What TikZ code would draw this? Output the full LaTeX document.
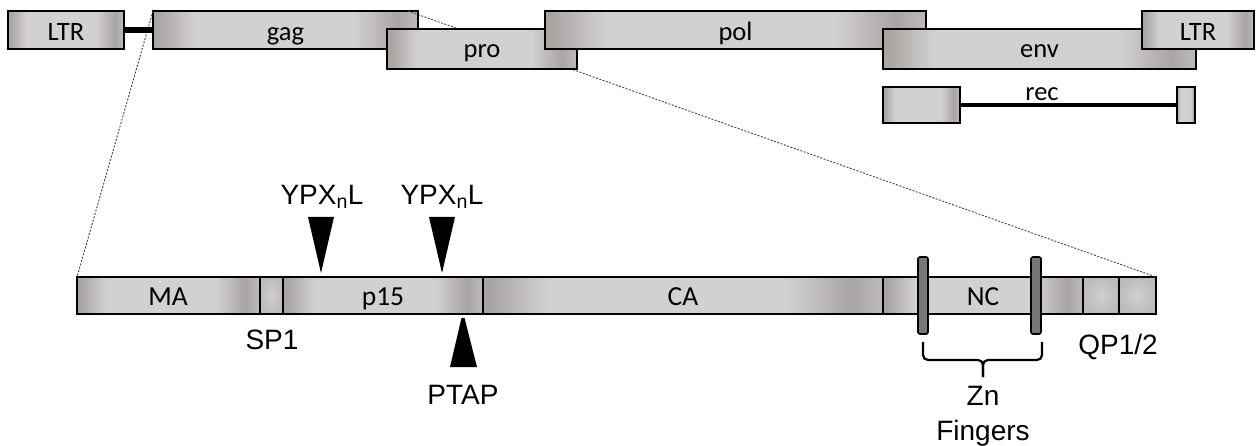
\documentclass[tikz,border=0pt]{standalone}
\usepackage{fontspec}
\setmainfont{Liberation Sans}
\newfontfamily\carlito{Carlito}
\newfontfamily\arialf{Liberation Sans}
\definecolor{gl}{HTML}{D2D0D1}
\definecolor{gd}{HTML}{A9A5A3}
\definecolor{gm}{HTML}{BDBABA}
\definecolor{fing}{HTML}{777777}
\definecolor{zl}{HTML}{444444}
\pgfdeclarehorizontalshading{bar}{100bp}{color(0bp)=(gd); color(26bp)=(gd); color(33bp)=(gl); color(63bp)=(gl); color(71bp)=(gd); color(75bp)=(gm); color(100bp)=(gm)}
\newcommand\gb[6]{\node[#1, minimum width=#5-#3, minimum height=#6-#4] (#2) at (#3,#4) {};}
\begin{document}
\begin{tikzpicture}[x=1pt,y=-1pt,
  gbox/.style={draw=black, line width=1.8pt, shade, shading=bar, inner sep=0pt, outer sep=0pt, anchor=north west},
  sbox/.style={draw=black, line width=1.8pt, inner color=gl, outer color=gm, inner sep=0pt, outer sep=0pt, anchor=north west},
  lbl/.style={font=\carlito\fontsize{26.5}{30}\selectfont, anchor=base, inner sep=0pt},
  lblb/.style={font=\carlito\fontsize{27.5}{32}\selectfont, anchor=base, inner sep=0pt},
  ann/.style={font=\arialf\fontsize{28}{32}\selectfont, anchor=base, inner sep=0pt},
  zoomline/.style={draw=zl, line width=0.9pt, dash pattern=on 2pt off 1.5pt},
  finger/.style={draw=black, line width=1.6pt, fill=fing, rounded corners=2pt, inner sep=0pt, outer sep=0pt, anchor=north west, minimum width=10pt, minimum height=77pt},
  bracestyle/.style={draw=black, line width=2.2pt, rounded corners=5pt},
  tri/.style={fill=black}]
\useasboundingbox (0,0) rectangle (1256,446);
% top row, first layer
\gb{gbox}{ltr1}{8}{11}{124}{49}
\gb{gbox}{gag}{153}{11}{418}{49}
% bottom row
\gb{gbox}{ma}{77}{277}{260}{314}
\gb{sbox}{sp1}{260}{277}{283}{314}
\gb{gbox}{p15}{283}{277}{483}{314}
\gb{gbox}{ca}{483}{277}{883}{314}
\gb{gbox}{nc}{883}{277}{1083}{314}
\gb{sbox}{qp1}{1083}{277}{1119}{314}
\gb{sbox}{qp2}{1119}{277}{1156}{314}
% zoom lines
\draw[zoomline] (gag.north west) -- (ma.north west);
\draw[zoomline] ([xshift=-10pt]gag.north east) -- (qp2.north east);
% top row, upper layers
\gb{gbox}{pro}{387}{29}{577}{69}
\gb{gbox}{pol}{545}{11}{926}{49}
\gb{gbox}{env}{883}{29}{1196}{69}
\gb{gbox}{ltr2}{1142}{11}{1254}{49}
\gb{gbox}{rec1}{883}{87}{960}{123}
\gb{gbox}{rec2}{1177}{87}{1195}{123}
\draw[line width=6pt] (ltr1.east) -- (gag.west);
\draw[line width=3.5pt] (rec1.east) -- (rec2.west);
% top labels
\node[lbl] (tltr1) at (66,41) {LTR};
\node[lbl] (tgag) at (285.5,41) {gag};
\node[lbl] (tpro) at (482,58) {pro};
\node[lbl] (tpol) at (735.5,41) {pol};
\node[lbl] (tenv) at (1039.5,58) {env};
\node[lbl] (tltr2) at (1198,41) {LTR};
\node[lbl] (trec) at (1042,101) {rec};
% bottom labels
\node[lblb] (tma) at (168,306) {MA};
\node[lblb] (tp15) at (383,306) {p15};
\node[lblb] (tca) at (683,306) {CA};
\node[lblb] (tnc) at (983,306) {NC};
% zinc fingers
\node[finger] (zf1) at (918,257) {};
\node[finger] (zf2) at (1031,257) {};
\coordinate (bl) at (923,342);
\coordinate (br) at (1042,342);
\coordinate (bc) at (983,360);
\coordinate (bm) at (983,377);
\draw[bracestyle] (bl) |- (bc) -- (bm);
\draw[bracestyle] (br) |- (bc) -- (bm);
% arrowheads
\fill[tri] (308,217) -- (334,217) -- (321,273) -- cycle;
\fill[tri] (429,217) -- (455,217) -- (442,273) -- cycle;
\fill[tri] (461.5,318) -- (464.5,318) -- (477,367) -- (450,367) -- cycle;
% annotations
\node[ann] (ty1) at (322,205) {YPX\textsubscript{n}L};
\node[ann] (ty2) at (442,205) {YPX\textsubscript{n}L};
\node[ann] (tsp1) at (272,350) {SP1};
\node[ann] (tptap) at (463,404) {PTAP};
\node[ann] (tqp) at (1118,355) {QP1/2};
\node[ann] (tzn) at (983,405) {Zn};
\node[ann] (tfing) at (983,440) {Fingers};
\end{tikzpicture}
\end{document}
